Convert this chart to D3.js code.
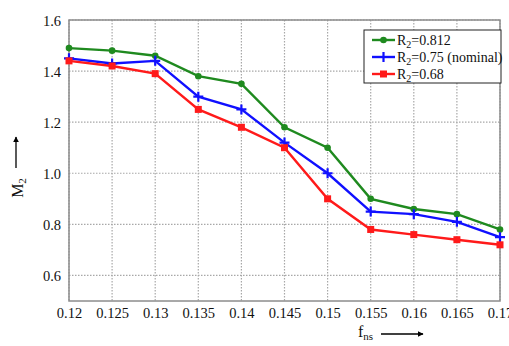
<!DOCTYPE html>
<html>
<head>
<meta charset="utf-8">
<script src="https://cdn.jsdelivr.net/npm/d3@7"></script>
<style>
  body { margin: 0; background: #fff; }
  svg text { font-family: "Liberation Serif", "Times New Roman", serif !important; }
</style>
</head>
<body>
<svg id="chart" width="509" height="346"></svg>
<script>
// Frequency values along the x axis
const fns = [0.12, 0.125, 0.13, 0.135, 0.14, 0.145, 0.15, 0.155, 0.16, 0.165, 0.17];
const xTickLabels = ["0.12", "0.125", "0.13", "0.135", "0.14", "0.145", "0.15", "0.155", "0.16", "0.165", "0.17"];
const yTicks = [0.6, 0.8, 1.0, 1.2, 1.4, 1.6];

// M2 for each R2 value
const m2High    = [1.49, 1.48, 1.46, 1.38, 1.35, 1.18, 1.10, 0.90, 0.86, 0.84, 0.78];
const m2Nominal = [1.45, 1.43, 1.44, 1.30, 1.25, 1.12, 1.00, 0.85, 0.84, 0.81, 0.75];
const m2Low     = [1.44, 1.42, 1.39, 1.25, 1.18, 1.10, 0.90, 0.78, 0.76, 0.74, 0.72];

const seriesNames = ["0.812", "0.75 (nominal)", "0.68"];

const series = [
  { name: seriesNames[0], values: m2High,    color: "#1f8a1f", marker: "circle" },
  { name: seriesNames[1], values: m2Nominal, color: "#1010ff", marker: "plus" },
  { name: seriesNames[2], values: m2Low,     color: "#ff1a1a", marker: "square" }
];

const svg = d3.select("#chart");
const plot = { left: 69, right: 500, top: 20, bottom: 301 };

const x = d3.scaleLinear().domain([0.12, 0.17]).range([plot.left, plot.right]);
const y = d3.scaleLinear().domain([0.5, 1.6]).range([plot.bottom, plot.top]);

// dotted grid
const grid = svg.append("g");
grid.selectAll("line.v").data(fns).enter().append("line")
  .attr("x1", d => x(d)).attr("x2", d => x(d))
  .attr("y1", plot.top).attr("y2", plot.bottom)
  .attr("stroke", "#a8a8a8").attr("stroke-width", 1.2).attr("stroke-dasharray", "1.5,1.5");
grid.selectAll("line.h").data(yTicks).enter().append("line")
  .attr("x1", plot.left).attr("x2", plot.right)
  .attr("y1", d => y(d)).attr("y2", d => y(d))
  .attr("stroke", "#a8a8a8").attr("stroke-width", 1.2).attr("stroke-dasharray", "1.5,1.5");

// frame
svg.append("rect")
  .attr("x", plot.left).attr("y", plot.top)
  .attr("width", plot.right - plot.left).attr("height", plot.bottom - plot.top)
  .attr("fill", "none").attr("stroke", "#8c8c8c").attr("stroke-width", 1.5);

// axes (labels only)
const xAxis = d3.axisBottom(x).tickValues(fns).tickSize(0)
  .tickFormat((d, i) => xTickLabels[i]);
const gx = svg.append("g").attr("transform", `translate(0,${plot.bottom})`).call(xAxis);
gx.select(".domain").remove();
gx.attr("font-family", null);
gx.selectAll("text").attr("dy", 0).attr("y", 17)
  .attr("font-size", 14.5).attr("fill", "#111");

const yAxis = d3.axisLeft(y).tickValues(yTicks).tickSize(0).tickFormat(d3.format(".1f"));
const gy = svg.append("g").attr("transform", `translate(${plot.left},0)`).call(yAxis);
gy.select(".domain").remove();
gy.attr("font-family", null);
gy.selectAll("text").attr("x", -8).attr("dy", "0.35em")
  .attr("font-size", 14.5).attr("fill", "#111");

// series lines
const line = d3.line().x((d, i) => x(fns[i])).y(d => y(d));
const marks = svg.append("g");
series.forEach(s => {
  marks.append("path").datum(s.values)
    .attr("d", line).attr("fill", "none")
    .attr("stroke", s.color).attr("stroke-width", 2.4);
});

function drawMarker(g, type, cx, cy, color) {
  if (type === "circle") {
    g.append("circle").attr("cx", cx).attr("cy", cy).attr("r", 3.3).attr("fill", color);
  } else if (type === "square") {
    g.append("rect").attr("x", cx - 3.5).attr("y", cy - 3.5).attr("width", 7).attr("height", 7).attr("fill", color);
  } else {
    g.append("path").attr("d", `M${cx - 5},${cy}H${cx + 5}M${cx},${cy - 5}V${cy + 5}`)
      .attr("stroke", color).attr("stroke-width", 2.2);
  }
}
series.forEach(s => {
  s.values.forEach((v, i) => drawMarker(marks, s.marker, x(fns[i]), y(v), s.color));
});

// legend
const lg = svg.append("g");
lg.append("rect").attr("x", 364).attr("y", 30).attr("width", 137).attr("height", 53)
  .attr("fill", "#fff").attr("stroke", "#222").attr("stroke-width", 1);
series.forEach((s, i) => {
  const ly = 40 + i * 17;
  lg.append("line").attr("x1", 372).attr("x2", 395).attr("y1", ly).attr("y2", ly)
    .attr("stroke", s.color).attr("stroke-width", 2.4);
  drawMarker(lg, s.marker, 383.5, ly, s.color);
  const t = lg.append("text").attr("x", 397).attr("y", ly + 5)
    .attr("font-size", 14).attr("fill", "#111");
  t.append("tspan").text("R");
  t.append("tspan").attr("font-size", 10).attr("dy", 3).text("2");
  t.append("tspan").attr("dy", -3).text("=" + s.name);
});

// arrow marker
svg.append("defs").append("marker")
  .attr("id", "arrow").attr("viewBox", "0 0 10 10").attr("refX", 9).attr("refY", 5)
  .attr("markerWidth", 6).attr("markerHeight", 6).attr("markerUnits", "userSpaceOnUse")
  .attr("orient", "auto")
  .append("path").attr("d", "M0,0L10,5L0,10Z").attr("fill", "#000");

// y axis title with arrow
const yt = svg.append("text").attr("transform", "translate(23,188) rotate(-90)")
  .attr("text-anchor", "middle").attr("font-size", 16).attr("fill", "#111");
yt.append("tspan").text("M");
yt.append("tspan").attr("font-size", 11).attr("dy", 3).text("2");
svg.append("line").attr("x1", 16).attr("x2", 16).attr("y1", 168).attr("y2", 137)
  .attr("stroke", "#000").attr("stroke-width", 1.3).attr("marker-end", "url(#arrow)");

// x axis title with arrow
const xt = svg.append("text").attr("x", 358).attr("y", 337)
  .attr("font-size", 16).attr("fill", "#111");
xt.append("tspan").text("f");
xt.append("tspan").attr("font-size", 11).attr("dy", 3).text("ns");
svg.append("line").attr("x1", 381).attr("x2", 423).attr("y1", 334).attr("y2", 334)
  .attr("stroke", "#000").attr("stroke-width", 1.3).attr("marker-end", "url(#arrow)");
</script>
</body>
</html>
